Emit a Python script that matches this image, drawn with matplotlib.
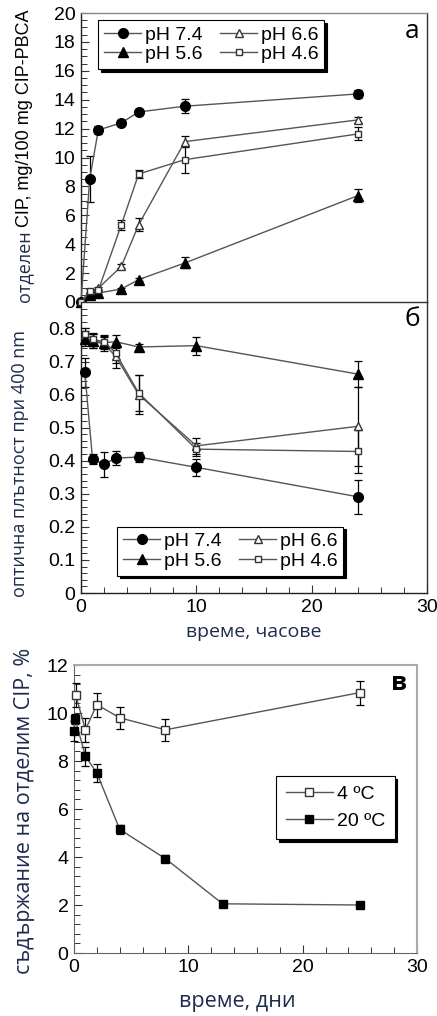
import matplotlib
matplotlib.use("Agg")
import matplotlib.pyplot as plt
from matplotlib.ticker import MultipleLocator

# ---------------- data ----------------
# panel a: released CIP vs time (hours)
t_a = [0, 0.75, 1.5, 3.5, 5, 9, 24]
a_74 = [0, 8.5, 11.9, 12.4, 13.15, 13.55, 14.4]
a_74_err = [0, 1.6, 0.3, 0.2, 0.2, 0.5, 0.3]
a_66 = [0, 0.55, 0.95, 2.47, 5.35, 11.1, 12.6]
a_66_err = [0, 0.1, 0.1, 0.15, 0.45, 0.37, 0.2]
a_56 = [0, 0.5, 0.62, 0.9, 1.55, 2.7, 7.36]
a_56_err = [0, 0.1, 0.1, 0.1, 0.1, 0.38, 0.45]
a_46 = [0, 0.78, 0.8, 5.35, 8.86, 9.85, 11.63]
a_46_err = [0, 0.1, 0.1, 0.35, 0.3, 0.95, 0.45]

# panel b: optical density at 400 nm vs time (hours)
t_b = [0.33, 1, 2, 3, 5, 10, 24]
b_74 = [0.667, 0.405, 0.389, 0.408, 0.411, 0.380, 0.291]
b_74_err = [0.045, 0.015, 0.038, 0.022, 0.015, 0.025, 0.052]
b_66 = [0.772, 0.762, 0.753, 0.716, 0.600, 0.445, 0.504]
b_66_err = [0.02, 0.02, 0.02, 0.035, 0.06, 0.025, 0.12]
b_56 = [0.767, 0.762, 0.757, 0.760, 0.744, 0.748, 0.662]
b_56_err = [0.02, 0.02, 0.02, 0.02, 0.01, 0.027, 0.04]
b_46 = [0.782, 0.767, 0.760, 0.726, 0.605, 0.435, 0.428]
b_46_err = [0.02, 0.02, 0.02, 0.03, 0.055, 0.02, 0.065]

# panel c: releasable CIP content vs time (days)
t_c4 = [0.15, 1, 2, 4, 8, 25]
c_4 = [10.75, 9.3, 10.35, 9.8, 9.3, 10.85]
c_4_err = [0.5, 0.5, 0.5, 0.45, 0.45, 0.5]
t_c20 = [0, 0.1, 1, 2, 4, 8, 13, 25]
c_20 = [9.25, 9.75, 8.2, 7.5, 5.15, 3.93, 2.05, 2.0]
c_20_err = [0.4, 0.2, 0.4, 0.37, 0.2, 0.15, 0.07, 0.07]

labels_ph = ["pH 7.4", "pH 6.6", "pH 5.6", "pH 4.6"]
labels_temp = ["4 ºC", "20 ºC"]

# ---------------- style ----------------
W, H = 437, 1016
fig = plt.figure(figsize=(W / 100, H / 100), dpi=100)
TICKF = "Liberation Sans"
LABF = "Open Sans"
NAVY = "#1f2b4d"
LINEC = "#555555"

def box(l, t, r, b):
    return [l / W, 1 - b / H, (r - l) / W, (b - t) / H]

ax_a = fig.add_axes(box(81, 13, 427, 302))
ax_b = fig.add_axes(box(81, 302, 427, 593))
ax_c = fig.add_axes(box(74, 665, 417, 953))

styles = {
    "pH 7.4": dict(marker="o", ms=7, mfc="black", mec="black"),
    "pH 6.6": dict(marker="^", ms=5.5, mfc="white", mec="#333333"),
    "pH 5.6": dict(marker="^", ms=6.5, mfc="black", mec="black"),
    "pH 4.6": dict(marker="s", ms=4.5, mfc="white", mec="#333333"),
}

def series(ax, x, y, e, st, label):
    ax.errorbar(x, y, yerr=e, color=LINEC, lw=1.0, ecolor="black",
                elinewidth=0.9, capsize=3, capthick=0.9, label=label,
                clip_on=False, zorder=3, **st)

for ax, t, sets in [
    (ax_a, t_a, [(a_74, a_74_err), (a_66, a_66_err), (a_56, a_56_err), (a_46, a_46_err)]),
    (ax_b, t_b, [(b_74, b_74_err), (b_66, b_66_err), (b_56, b_56_err), (b_46, b_46_err)]),
]:
    for lab, (y, e) in zip(labels_ph, sets):
        series(ax, t, y, e, styles[lab], lab)

series(ax_c, t_c4, c_4, c_4_err, dict(marker="s", ms=5.5, mfc="white", mec="#333333"), labels_temp[0])
series(ax_c, t_c20, c_20, c_20_err, dict(marker="s", ms=5.5, mfc="black", mec="black"), labels_temp[1])

# axes setup
for ax in (ax_a, ax_b, ax_c):
    ax.set_xlim(0, 30)
    ax.xaxis.set_major_locator(MultipleLocator(10))
    ax.xaxis.set_minor_locator(MultipleLocator(2))
    ax.tick_params(which="both", direction="in", labelsize=14, pad=4,
                   top=False, right=False, color="#333333")
    ax.tick_params(which="major", length=6, width=0.8)
    ax.tick_params(which="minor", length=4, width=0.7)

ax_a.set_ylim(0, 20)
ax_a.yaxis.set_major_locator(MultipleLocator(2))
ax_a.yaxis.set_minor_locator(MultipleLocator(0.5))
ax_a.tick_params(axis="x", which="both", bottom=False, labelbottom=False)

ax_b.set_ylim(0, 0.88)
ax_b.yaxis.set_minor_locator(MultipleLocator(0.02))
ax_b.set_yticks([0, 0.1, 0.2, 0.3, 0.4, 0.5, 0.6, 0.7, 0.8])
ax_b.set_yticklabels(["0", "0.1", "0.2", "0.3", "0.4", "0.5", "0.6", "0.7", "0.8"])

ax_c.set_ylim(0, 12)
ax_c.yaxis.set_major_locator(MultipleLocator(2))
ax_c.yaxis.set_minor_locator(MultipleLocator(0.4))

for ax in (ax_a, ax_b, ax_c):
    for lbl in ax.get_xticklabels() + ax.get_yticklabels():
        lbl.set_fontfamily(TICKF)

for ax in (ax_a, ax_b):
    ax.spines["left"].set_color("#222222")
    ax.spines["bottom"].set_color("#222222")
    ax.spines["right"].set_color("#333333")
    ax.spines["top"].set_color("#888888")
    for s in ax.spines.values():
        s.set_linewidth(1.0)
ax_a.spines["bottom"].set_visible(False)
ax_b.spines["top"].set_color("#333333")
for s in ("left", "bottom"):
    ax_c.spines[s].set_color("#666666")
for s in ("top", "right"):
    ax_c.spines[s].set_color("#aaaaaa")
    ax_c.spines[s].set_linewidth(1.5)

# legends
shadow = {"color": "black", "alpha": 1.0}
def ph_legend(ax, loc, anchor):
    h, l = ax.get_legend_handles_labels()
    order = [0, 2, 1, 3]
    hh = [h[i][0] for i in order]
    ll = [l[i] for i in order]
    leg = ax.legend(hh, ll, ncol=2, loc=loc, bbox_to_anchor=anchor,
                    prop={"family": TICKF, "size": 14}, frameon=True,
                    fancybox=False, shadow=shadow, edgecolor="black",
                    handlelength=1.9, handletextpad=0.2, columnspacing=0.9,
                    labelspacing=0.1, borderpad=0.3, borderaxespad=0)
    leg.get_frame().set_linewidth(0.8)
    return leg

ph_legend(ax_a, "upper left", (0.05, 0.975))
ph_legend(ax_b, "lower left", (0.105, 0.06))

h, l = ax_c.get_legend_handles_labels()
leg = ax_c.legend([x[0] for x in h], l, loc="upper left", bbox_to_anchor=(0.59, 0.615),
                  prop={"family": TICKF, "size": 14}, frameon=True, fancybox=False,
                  shadow=shadow, edgecolor="black", handlelength=2.4,
                  handletextpad=0.2, labelspacing=0.45, borderpad=0.5, borderaxespad=0)
leg.get_frame().set_linewidth(0.8)

# panel letters
fig.text(412 / W, 1 - 31 / H, "а", fontsize=19, fontfamily=LABF, ha="center", va="center")
fig.text(412 / W, 1 - 319 / H, "б", fontsize=19, fontfamily=LABF, ha="center", va="center")
fig.text(399 / W, 1 - 684 / H, "в", fontsize=18, fontfamily=LABF, fontweight="bold",
         ha="center", va="center")

# axis labels
fig.canvas.draw()
r = fig.canvas.get_renderer()
t1 = fig.text(25 / W, 1 - 303 / H, "отделен ", rotation=90, fontsize=13,
              fontfamily=LABF, color=NAVY, ha="center", va="bottom")
bb = t1.get_window_extent(r)
fig.text(25 / W, bb.y1 / H, "CIP, mg/100 mg CIP-PBCA", rotation=90, fontsize=13,
         fontfamily=TICKF, color="black", ha="center", va="bottom")

fig.text(20 / W, 1 - 463 / H, "оптична плътност при 400 nm", rotation=90, fontsize=13,
         fontfamily=LABF, color=NAVY, ha="center", va="center")
fig.text(25 / W, 1 - 811 / H, "съдържание на отделим CIP, %", rotation=90, fontsize=15.5,
         fontfamily=LABF, color=NAVY, ha="center", va="center")
fig.text(254 / W, 1 - 632 / H, "време, часове", fontsize=14, fontfamily=LABF,
         color=NAVY, ha="center", va="center")
fig.text(237 / W, 1 - 1002 / H, "време, дни", fontsize=15.5, fontfamily=LABF,
         color=NAVY, ha="center", va="center")

fig.savefig("out.png", dpi=100)
